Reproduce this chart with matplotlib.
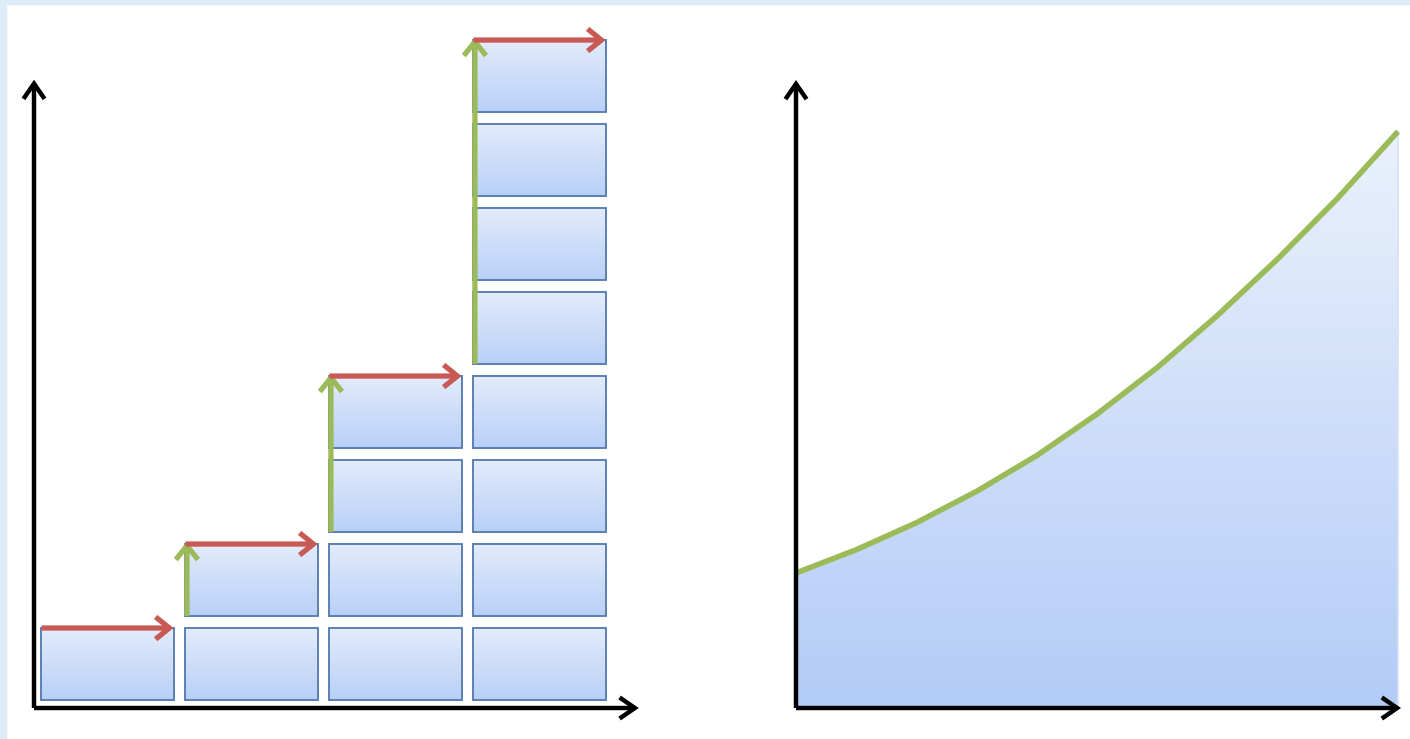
import numpy as np
import matplotlib
matplotlib.use('Agg')
import matplotlib.pyplot as plt
from matplotlib.patches import Rectangle, FancyArrowPatch, Polygon
from matplotlib.colors import LinearSegmentedColormap

W, H = 1410, 739

# blocks in each step (capacity doubling)
stack_heights = [1, 2, 4, 8]

# smooth growth curve (x 0..10, y in axis units)
curve_x = [0.0, 1.0, 2.0, 3.0, 4.0, 5.0, 6.0, 7.0, 8.0, 9.0, 10.0]
curve_y = [2.15, 2.52, 2.95, 3.45, 4.02, 4.68, 5.42, 6.25, 7.15, 8.12, 9.18]

RED = '#c85a55'
GREEN = '#9bbb59'
EDGE = '#5a80b4'
block_cmap = LinearSegmentedColormap.from_list('blk', ['#b8d0f7', '#e3ecfc'])
area_cmap = LinearSegmentedColormap.from_list('area', ['#b3ccf7', '#eaf1fc'])
grad = np.linspace(0, 1, 64).reshape(-1, 1)


def px_axes(fig, box, ox, oy, sx, sy):
    # box in pixels (left, top, right, bottom); data = (px-ox)/sx, (oy-py)/sy
    l, t, r, b = box
    ax = fig.add_axes([l / W, 1 - b / H, (r - l) / W, (b - t) / H])
    ax.set_axis_off()
    lims = ((l - ox) / sx, (r - ox) / sx), ((oy - b) / sy, (oy - t) / sy)
    return ax, lims


def arrow(ax, p0, p1, color, lw, hl=0.5, hw=0.4):
    a = FancyArrowPatch(p0, p1, arrowstyle='->,head_length=%s,head_width=%s' % (hl, hw),
                        mutation_scale=20, color=color, lw=lw, shrinkA=0, shrinkB=0,
                        capstyle='butt', joinstyle='miter', zorder=5)
    ax.add_patch(a)


fig = plt.figure(figsize=(W / 100, H / 100), dpi=100)
fig.patches.append(Rectangle((0, 1 - 4 / H), 1, 4 / H, transform=fig.transFigure,
                             color='#dcedf7', zorder=-1))
fig.patches.append(Rectangle((0, 0), 6 / W, 1, transform=fig.transFigure,
                             color='#dcedf7', zorder=-1))

# ---- left panel: stacked blocks
ax1, (xl, yl) = px_axes(fig, (14, 12, 664, 735), 34, 708, 144, 84)
off_x, bw = 0.052, 0.917
off_y, bh = 0.095, 0.857
prev = 0
for i, n in enumerate(stack_heights):
    for j in range(n):
        r = Rectangle((i + off_x, j + off_y), bw, bh, facecolor='none',
                      edgecolor=EDGE, lw=1.4, zorder=3)
        ax1.add_patch(r)
        im = ax1.imshow(grad, extent=[i + off_x, i + off_x + bw, j + off_y, j + off_y + bh],
                        origin='lower', cmap=block_cmap, aspect='auto', zorder=2)
        im.set_clip_path(r)
    top = n - 1 + off_y + bh
    if prev:
        arrow(ax1, (i + off_x + 0.01, prev + off_y), (i + off_x + 0.01, top + 0.03), GREEN, 3.8)
    arrow(ax1, (i + off_x, top), (i + 0.97, top), RED, 3.8)
    prev = n

arrow(ax1, (0, 0), (0, 7.48), 'black', 3.2, 0.55, 0.38)
arrow(ax1, (0, 0), (4.2, 0), 'black', 3.2, 0.55, 0.38)
ax1.set_xlim(xl)
ax1.set_ylim(yl)

# ---- right panel: continuous curve
ax2, (xl2, yl2) = px_axes(fig, (770, 12, 1410, 735), 796, 708, 60.2, 62.8)
poly = Polygon(list(zip(curve_x, curve_y)) + [(curve_x[-1], 0), (curve_x[0], 0)],
               closed=True, facecolor='none', edgecolor='none')
ax2.add_patch(poly)
im = ax2.imshow(grad, extent=[curve_x[0], curve_x[-1], 0, max(curve_y)], origin='lower',
                cmap=area_cmap, aspect='auto', zorder=1)
im.set_clip_path(poly)
ax2.plot([curve_x[-1], curve_x[-1]], [0, curve_y[-1]], color='#d6e2f6', lw=1.2, zorder=2)
ax2.plot(curve_x, curve_y, color=GREEN, lw=4.0, solid_capstyle='butt',
         solid_joinstyle='round', zorder=4)
arrow(ax2, (0, 0), (0, 10), 'black', 3.2, 0.55, 0.38)
arrow(ax2, (0, 0), (10.05, 0), 'black', 3.2, 0.55, 0.38)
ax2.set_xlim(xl2)
ax2.set_ylim(yl2)

fig.savefig('out.png', dpi=100)
